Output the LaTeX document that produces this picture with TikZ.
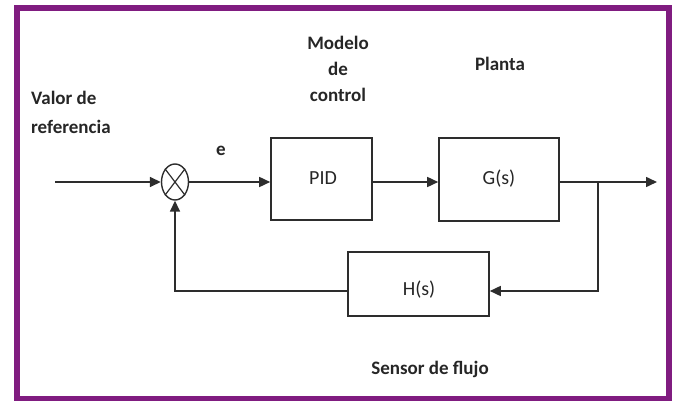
\documentclass[tikz,border=0pt]{standalone}
\usepackage{fontspec}
\setmainfont{Carlito}
\usetikzlibrary{arrows.meta,shapes.geometric}
\definecolor{frame}{RGB}{128,28,128}
\definecolor{ln}{RGB}{45,45,45}
\begin{document}
\begin{tikzpicture}[x=1pt,y=-1pt,
  blk/.style={draw=ln,line width=1.6pt,minimum width=#1,inner sep=0pt},
  lbl/.style={font=\fontsize{19}{23}\selectfont\bfseries,text=black!85,inner sep=0pt},
  inl/.style={font=\fontsize{20}{24}\selectfont,text=black!85,inner sep=0pt},
  wire/.style={draw=ln,line width=1.6pt},
  arr/.style={wire,-{Triangle[length=11pt,width=10pt]}}]
\useasboundingbox (0,0) rectangle (675,401);
\draw[frame,line width=6pt] (17,8) rectangle (669,398.5);
\node[blk=101pt,minimum height=82pt] (pid) at (321.5,179) {};
\node[inl] at (323,178) {PID};
\node[blk=120pt,minimum height=83pt] (g) at (499,179.5) {};
\node[inl] at (499,179) {G(s)};
\node[blk=141pt,minimum height=64pt] (h) at (418.5,284) {};
\node[inl] at (419,290) {H(s)};
\node[draw=ln,line width=1.4pt,ellipse,minimum width=27pt,minimum height=36pt,inner sep=0pt] (sum) at (175,182) {};
\draw[ln,line width=1.2pt] (sum.north west) -- (sum.south east) (sum.north east) -- (sum.south west);
\coordinate (in) at (55,182);
\coordinate (out) at (657,182);
\coordinate (br) at (598,182);
\coordinate (brd) at (598,291);
\coordinate (fbl) at (175,291);
\draw[arr] (in) -- (sum.west);
\draw[arr] (sum.east) -- (sum.east -| pid.west);
\draw[arr] (pid.east |- sum.east) -- (sum.east -| g.west);
\draw[arr] (g.east |- sum.east) -- (out);
\draw[arr] (br) -- (brd) -- (h.east |- brd);
\draw[arr] (h.west |- fbl) -- (fbl) -- (sum.south);
\node[lbl,anchor=west,align=left] (ref) at (31,112) {Valor de\\[6pt]referencia};
\node[lbl] (e) at (221,151) {e};
\node[lbl,align=center] (mod) at (338,69) {Modelo\\[3pt]de\\[3pt]control};
\node[lbl] (pl) at (500,64) {Planta};
\node[lbl] (sens) at (430,369) {Sensor de flujo};
\end{tikzpicture}
\end{document}
